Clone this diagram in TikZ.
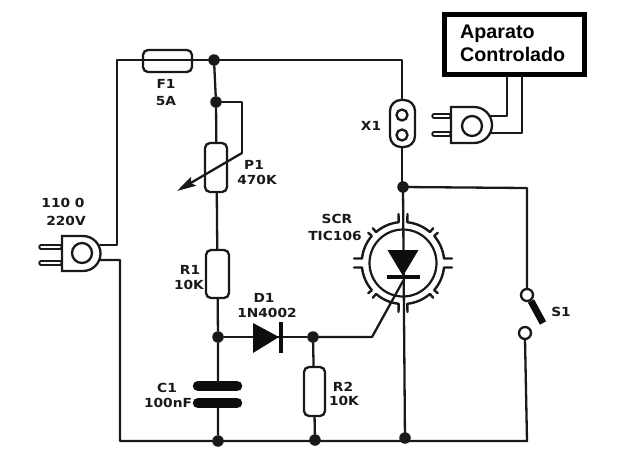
\documentclass[tikz,border=0pt]{standalone}
\usepackage{fontspec}
\usetikzlibrary{arrows.meta,calc}
\newfontfamily\lab[FakeStretch=1.1]{DejaVu Sans Bold}
\newfontfamily\ttl{Liberation Sans Bold}
\tikzset{
 x=1pt,y=-1pt,
 wire/.style={line width=2.3pt,line cap=round,line join=round,draw=black!90},
 body/.style={line width=2.3pt,draw=black!90,fill=white,rounded corners=4pt},
 dot/.style={circle,fill=black!90,inner sep=0pt,minimum size=11.5pt},
 lbl/.style={font=\lab\fontsize{12.5}{14}\selectfont,inner sep=0pt,text=black!90},
 hole/.style={circle,line width=2.3pt,draw=black!90,fill=white,inner sep=0pt},
 plate/.style={line width=10.5pt,line cap=round,draw=black!95},
 ttlstyle/.style={font=\ttl\fontsize{19.7}{22}\selectfont,anchor=base west,inner sep=0pt,text=black},
 pinout/.style={line width=5.5pt,line cap=round,draw=black!90},
 pinin/.style={line width=1.4pt,line cap=round,draw=white}
}
\begin{document}
\begin{tikzpicture}
\useasboundingbox (0,0) rectangle (640,469);
% coordinates
\coordinate (topL) at (117,60);
\coordinate (topR) at (402,60);
\coordinate (botL) at (120,441);
\coordinate (botR) at (527,441);
\coordinate (swT) at (527,188);
% left-hand plug and its wires
\draw[wire] (100,245) -- (117,245) -- (topL) -- (topR) -- (402,100);
\draw[wire] (100,260) -- (120,260) -- (botL) -- (botR) -- (525,339);
\draw[wire] (402,147) -- (402,187);
\draw[wire] (402,187) -- (swT) -- (527,290);
\draw[wire] (403,187) -- (405,441);
% branch R1, P1
\node[dot] (j1) at (214,60) {};
\node[dot] (j2) at (216,102) {};
\node[dot] (j3) at (218,337) {};
\node[dot] (j4) at (313,337) {};
\node[dot] (j5) at (218,441) {};
\node[dot] (j6) at (315,440) {};
\node[dot] (j7) at (405,438) {};
\node[dot] (j8) at (403,187) {};
\draw[wire] (j1) -- (j2) -- (j3) -- (j5);
\draw[wire] (j2) -- (242,102) -- (242,153);
\draw[wire] (j3) -- (j4);
\draw[wire] (j4) -- (j6);
\draw[wire] (j4) -- (372,337) -- (403,281);
% fuse
\draw[body,rounded corners=5pt] (143,50) rectangle (192,72);
\draw[line width=1.6pt,draw=black!90] (143,60) -- (192,60);
% resistors
\draw[body,rounded corners=5pt] (205,143) rectangle (227,192);
\draw[body,rounded corners=5pt] (206,250) rectangle (229,298);
\draw[body,rounded corners=5pt] (304,367) rectangle (325,416);
% pot arrow
\draw[line width=2.3pt,draw=black!90,-{Stealth[length=19pt,width=10pt,inset=3pt]}] (242,153) -- (177,191);
% capacitor
\fill[white] (194,386) rectangle (241,403);
\draw[plate] (198,386) -- (237,386);
\draw[plate] (198,403) -- (237,403);
% diode
\fill[black!95] (253,323) -- (279,337) -- (253,353) -- cycle;
\draw[line width=4pt,draw=black!95] (281,322) -- (281,353);
% X1
\draw[body,rounded corners=11pt] (390,100) rectangle (415,147);
\node[hole,minimum size=11pt] (x1a) at (402,115) {};
\node[hole,minimum size=11pt] (x1b) at (402,135) {};
% SCR
\begin{scope}[shift={(403,263)}]
 \draw[line width=2.2pt,draw=black!90] (0,0) circle[radius=33.5];
 \foreach \sx/\sy in {1/1,-1/1,1/-1,-1/-1}{
  \begin{scope}[xscale=\sx,yscale=\sy]
  \draw[line width=2.4pt,draw=black!90,line join=round,line cap=round]
    (49,4.5) -- (41,4.5) arc[start angle=6,end angle=41,radius=41] -- ({cos(41)*46},{sin(41)*46});
  \draw[line width=2.4pt,draw=black!90,line join=round,line cap=round]
    ({cos(49)*46},{sin(49)*46}) -- ({cos(49)*41},{sin(49)*41}) arc[start angle=49,end angle=84,radius=41] -- (4.5,49);
  \end{scope}
 }
 \fill[black!95] (-15.5,-13) -- (15.5,-13) -- (0,13) -- cycle;
 \draw[line width=3.5pt,draw=black!95] (-16.5,14) -- (16.5,14);
\end{scope}
% switch
\node[hole,minimum size=12pt] (s1a) at (527,295) {};
\node[hole,minimum size=12pt] (s1b) at (525,333) {};
\draw[line width=7pt,draw=black!95] (531,301) -- (543,323);
% left plug
\draw[pinout] (41,247) -- (62,247) (41,263) -- (62,263);
\draw[pinin] (41,247) -- (60,247) (41,263) -- (60,263);
\draw[body,rounded corners=0pt] (62,236) -- (83,236) arc[start angle=-90,end angle=90,radius=17.5] -- (62,271) -- cycle;
\node[hole,minimum size=20pt] (pl) at (82,253) {};
% right plug
\draw[wire] (490,116) -- (507,116) -- (507,77);
\draw[wire] (491,133) -- (522,133) -- (522,77);
\draw[pinout] (434,116) -- (451,116) (434,134) -- (451,134);
\draw[pinin] (434,116) -- (449,116) (434,134) -- (449,134);
\draw[body,rounded corners=0pt] (451,107) -- (474,107) arc[start angle=-90,end angle=90,radius=18] -- (451,143) -- cycle;
\node[hole,minimum size=20pt] (pr) at (472,126) {};
% controlled device
\node[draw=black,line width=5pt,fill=white,minimum width=140pt,minimum height=60pt,inner sep=0pt] (box) at (514.5,44.5) {};
\node[ttlstyle] (t1) at (460,38) {Aparato};
\node[ttlstyle] (t2) at (460,61) {Controlado};
% labels
\node[lbl] (lf1) at (166,84) {F1};
\node[lbl] (lf2) at (166,101) {5A};
\node[lbl] (lp1) at (254,165) {P1};
\node[lbl] (lp2) at (257,180) {470K};
\node[lbl] (lv1) at (63,203) {110 0};
\node[lbl] (lv2) at (66,221) {220V};
\node[lbl] (lr1) at (190,270) {R1};
\node[lbl] (lr2) at (189,285) {10K};
\node[lbl] (ld1) at (264,298) {D1};
\node[lbl] (ld2) at (267,313) {1N4002};
\node[lbl] (lc1) at (167,388) {C1};
\node[lbl] (lc2) at (168,403) {100nF};
\node[lbl] (lr3) at (343,387) {R2};
\node[lbl] (lr4) at (344,401) {10K};
\node[lbl] (lx) at (371,126) {X1};
\node[lbl] (ls1) at (337,219) {SCR};
\node[lbl] (ls2) at (335,236) {TIC106};
\node[lbl] (ls) at (561,312) {S1};
\end{tikzpicture}
\end{document}
